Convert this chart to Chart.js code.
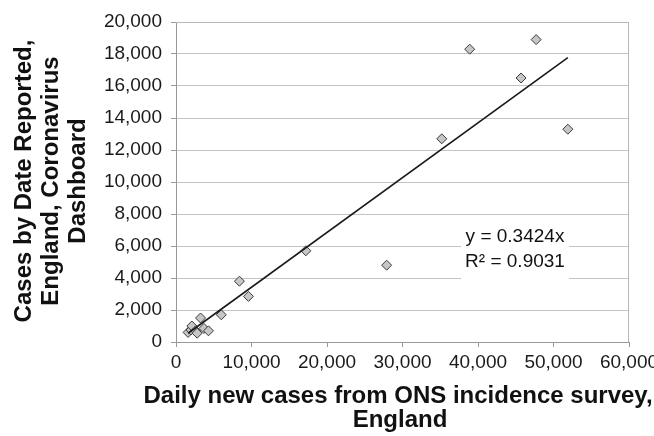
<!DOCTYPE html>
<html>
<head>
<meta charset="utf-8">
<script src="https://cdn.jsdelivr.net/npm/chart.js@4"></script>
<style>
  html, body { margin: 0; padding: 0; background: #fff; }
  #wrap { width: 654px; height: 436px; }
</style>
</head>
<body>
<div id="wrap"><canvas id="scatter-chart" width="654" height="436"></canvas></div>
<script>
// daily new cases, ONS incidence survey (x) vs cases by date reported (y)
var onsDaily = [1600, 2000, 2100, 2600, 2800, 3250, 3700, 4300, 6000, 8400, 9600, 17200, 27900, 35200, 38900, 45700, 47700, 51900];
var reported = [600, 750, 1000, 700, 550, 1500, 850, 700, 1700, 3800, 2850, 5700, 4800, 12700, 18300, 16500, 18900, 13300];

// linear fit through the origin
var trendSlope = 0.3424;
var trendR2 = 0.9031;

var xTitle = ["Daily new cases from ONS incidence survey,", "England"];
var yTitle = ["Cases by Date Reported,", "England, Coronavirus", "Dashboard"];

var FONT = '"Liberation Sans", Arial, sans-serif';

function pointsFrom(xs, ys) {
  var out = [];
  for (var i = 0; i < xs.length; i++) out.push({x: xs[i], y: ys[i]});
  return out;
}

var xMin = Math.min.apply(null, onsDaily);
var xMax = Math.max.apply(null, onsDaily);
var trendPoints = [
  {x: xMin, y: trendSlope * xMin},
  {x: xMax, y: trendSlope * xMax}
];

var extras = {
  id: 'extras',
  afterDraw: function(chart) {
    var ctx = chart.ctx, a = chart.chartArea;
    var xs = chart.scales.x, ys = chart.scales.y;
    ctx.save();

    // frame on top and right of the plot
    ctx.strokeStyle = '#b8b8b8';
    ctx.lineWidth = 1;
    ctx.beginPath();
    ctx.moveTo(a.left, a.top + 0.5);
    ctx.lineTo(a.right - 0.5, a.top + 0.5);
    ctx.lineTo(a.right - 0.5, a.bottom);
    ctx.stroke();

    // equation label with a white backing
    var cx = xs.getPixelForValue(44900);
    var cy = ys.getPixelForValue(5850);
    ctx.fillStyle = '#fff';
    ctx.fillRect(cx - 54, cy - 31, 108, 62);
    ctx.fillStyle = '#111';
    ctx.font = '19px ' + FONT;
    ctx.textAlign = 'center';
    ctx.textBaseline = 'middle';
    ctx.fillText('y = ' + trendSlope + 'x', cx, cy - 12);
    ctx.fillText('R\u00b2 = ' + trendR2, cx, cy + 13);

    // axis titles
    ctx.font = 'bold 24px ' + FONT;
    ctx.textBaseline = 'alphabetic';
    ctx.fillText(xTitle[0], 398, 403);
    ctx.fillText(xTitle[1], 400, 427);

    var base = [31, 58, 85];
    for (var i = 0; i < yTitle.length; i++) {
      ctx.save();
      ctx.translate(base[i], 181);
      ctx.rotate(-Math.PI / 2);
      ctx.fillText(yTitle[i], 0, 0);
      ctx.restore();
    }
    ctx.restore();
  }
};

function fmt(v) { return Number(v).toLocaleString('en-US'); }

new Chart(document.getElementById("scatter-chart"), {
  type: 'scatter',
  data: {
    datasets: [{
      type: 'line',
      label: 'trend',
      data: trendPoints,
      borderColor: '#1a1a1a',
      borderWidth: 1.6,
      pointRadius: 0,
      fill: false
    }, {
      label: 'cases',
      data: pointsFrom(onsDaily, reported),
      pointStyle: 'rectRot',
      pointRadius: 5,
      pointBackgroundColor: '#c6c6c6',
      pointBorderColor: '#3a3a3a',
      pointBorderWidth: 1
    }]
  },
  plugins: [extras],
  options: {
    responsive: false,
    animation: false,
    layout: { padding: { top: 22, right: 25, left: 0, bottom: 0 } },
    plugins: {
      legend: { display: false },
      tooltip: { enabled: false },
      title: { display: false }
    },
    scales: {
      x: {
        type: 'linear',
        min: 0,
        max: 60000,
        afterFit: function(s) {
          s.height = 94;
          s.paddingLeft = 0;
          s.paddingRight = 0;
        },
        ticks: {
          stepSize: 10000,
          padding: 4,
          color: '#1a1a1a',
          font: { family: FONT, size: 19 },
          callback: fmt
        },
        grid: { drawOnChartArea: false, tickLength: 5, tickColor: '#999' },
        border: { color: '#999' }
      },
      y: {
        min: 0,
        max: 20000,
        afterFit: function(s) {
          s.width = 176;
          s.paddingTop = 0;
          s.paddingBottom = 0;
        },
        ticks: {
          stepSize: 2000,
          padding: 9,
          color: '#1a1a1a',
          font: { family: FONT, size: 19 },
          callback: fmt
        },
        grid: { color: '#c4c4c4', tickLength: 5, tickColor: '#999' },
        border: { color: '#999' }
      }
    }
  }
});
</script>
</body>
</html>
